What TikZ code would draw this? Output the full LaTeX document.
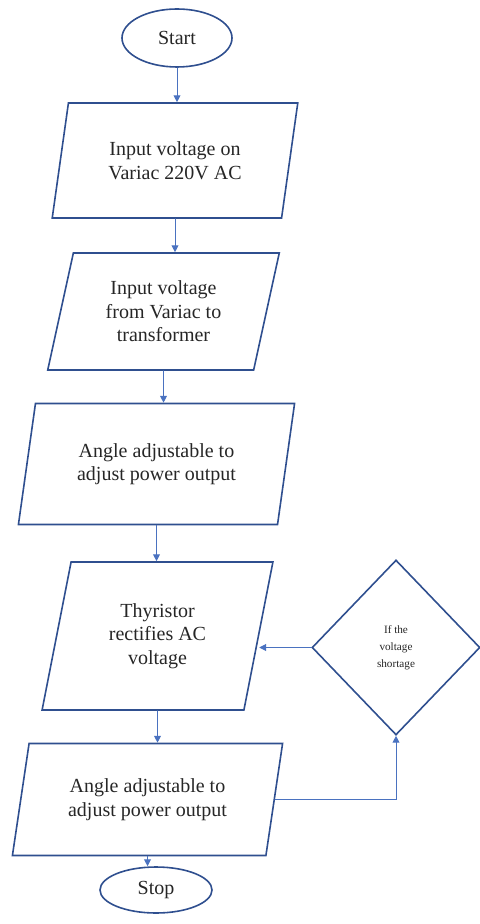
\documentclass[tikz,border=0pt]{standalone}
\usepackage{fontspec}
\setmainfont{Liberation Serif}
\newfontfamily\chartfont{Liberation Serif}
\usepackage{tikz}
\usetikzlibrary{arrows.meta,shapes.geometric}
\usepackage{xcolor}
\definecolor{boxblue}{HTML}{2F4F8F}
\definecolor{flowblue}{HTML}{4A72C0}

\begin{document}
\begin{tikzpicture}[x=0.5pt,y=-0.5pt,>={Triangle[length=3.4pt,width=3.4pt]},
  font=\chartfont\fontsize{10}{11.8}\selectfont,line cap=round,
  term/.style={ellipse,draw=boxblue,line width=0.8pt,text=black!85,inner sep=0pt},
  io/.style={trapezium,trapezium left angle=75,trapezium right angle=105,trapezium stretches=true,
    draw=boxblue,line width=0.8pt,text=black!85,align=center,inner sep=0pt},
  ifbox/.style={diamond,draw=boxblue,line width=0.8pt,text=black!85,align=center,inner sep=0pt,
    font=\chartfont\fontsize{5.6}{8.6}\selectfont},
  flow/.style={->,flowblue,line width=0.5pt}]
\useasboundingbox (0,0) rectangle (480,924);
\node[term,minimum width=55pt,minimum height=29pt] (start) at (177,38) {Start};
\node[io,minimum width=123pt,minimum height=57.5pt] (variac) at (175,160.5) {Input voltage on\\Variac 220V AC};
\node[io,minimum width=116.5pt,minimum height=58.5pt] (trafo) at (163.5,311.5) {Input voltage\\from Variac to\\transformer};
\node[io,minimum width=138.5pt,minimum height=60.5pt] (angle) at (156.5,464) {Angle adjustable to\\adjust power output};
\node[io,trapezium left angle=76,trapezium right angle=104,minimum width=115.5pt,minimum height=74pt] (thyr) at (157.5,636) {Thyristor\\rectifies AC\\voltage};
\node[io,minimum width=135.5pt,minimum height=56pt] (angle2) at (147.5,799.5) {Angle adjustable to\\adjust power output};
\node[term,minimum width=56pt,minimum height=23pt] (stop) at (156,890) {Stop};
\node[ifbox,minimum width=84pt,minimum height=87.5pt] (short) at (396,647.5) {If the\\voltage\\shortage};
\draw[flow] (start.south) -- (start.south |- variac.north);
\draw[flow] (variac.south) -- (variac.south |- trafo.north);
\draw[flow] (trafo.south) -- (trafo.south |- angle.north);
\draw[flow] (angle.south) -- (angle.south |- thyr.north);
\draw[flow] (thyr.south) -- (thyr.south |- angle2.north);
\draw[flow] (angle2.south) -- (angle2.south |- stop.north);
\draw[flow] (short.west) -- (short.west -| thyr.east);
\draw[flow] (angle2.east) -| (short.south);
\end{tikzpicture}
\end{document}
